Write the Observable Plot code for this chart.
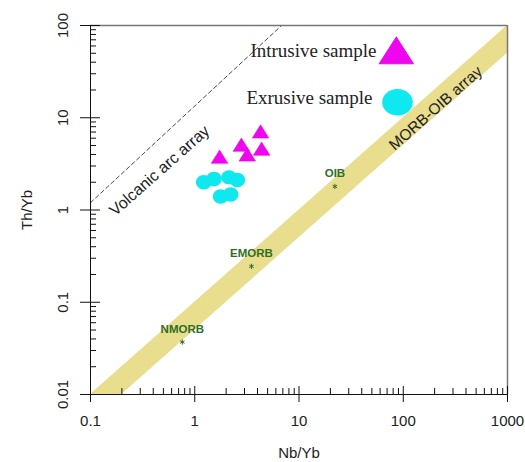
<!DOCTYPE html>
<html><head><meta charset="utf-8">
<script src="https://cdn.jsdelivr.net/npm/d3@7"></script>
<script src="https://cdn.jsdelivr.net/npm/@observablehq/plot@0.6"></script>
<style>html,body{margin:0;padding:0;background:#fff;}</style>
</head><body><div id="chart"></div>
<script>
// ---- data ----
const xTicks = [0.1, 1, 10, 100, 1000];
const xTickLabels = ["0.1", "1", "10", "100", "1000"];
const yTicks = [0.01, 0.1, 1, 10, 100];
const yTickLabels = ["0.01", "0.1", "1", "10", "100"];

const intrusiveNbYb = [4.28, 1.73, 2.80, 4.38, 3.19];
const intrusiveThYb = [6.73, 3.58, 4.83, 4.37, 3.79];

const extrusiveNbYb = [1.22, 1.53, 2.13, 2.56, 1.77, 2.21];
const extrusiveThYb = [2.00, 2.17, 2.26, 2.12, 1.40, 1.47];

const refNames = ["NMORB", "EMORB", "OIB"];
const refNbYb = [0.76, 3.5, 22.1];
const refThYb = [0.037, 0.245, 1.8];

const arrayNbYb = [0.1, 1000];
const arrayLowThYb = [0.005, 50];
const arrayHighThYb = [0.01, 100];

const arcNbYb = [0.1, 6.8];
const arcThYb = [1.2, 100];

const legendNames = ["Intrusive sample", "Exrusive sample"];

// ---- derived tables ----
const xMinor = xTicks.slice(0, -1).flatMap(d => [2,3,4,5,6,7,8,9].map(k => d * k));
const yMinor = yTicks.slice(0, -1).flatMap(d => [2,3,4,5,6,7,8,9].map(k => d * k));
const intrusive = intrusiveNbYb.map((x, i) => ({x, y: intrusiveThYb[i]}));
const extrusive = extrusiveNbYb.map((x, i) => ({x, y: extrusiveThYb[i]}));
const refs = refNames.map((name, i) => ({name, x: refNbYb[i], y: refThYb[i]}));
const band = arrayNbYb.map((x, i) => ({x, lo: arrayLowThYb[i], hi: arrayHighThYb[i]}));
const arc = arcNbYb.map((x, i) => ({x, y: arcThYb[i]}));

// ---- custom (slightly stretched) symbols ----
function triSymbol(w, h) {
  return {draw(ctx) {
    ctx.moveTo(0, -2 * h / 3);
    ctx.lineTo(w / 2, h / 3);
    ctx.lineTo(-w / 2, h / 3);
    ctx.closePath();
  }};
}
function ellSymbol(rx, ry) {
  const k = 0.5523;
  return {draw(ctx) {
    ctx.moveTo(rx, 0);
    ctx.bezierCurveTo(rx, k * ry, k * rx, ry, 0, ry);
    ctx.bezierCurveTo(-k * rx, ry, -rx, k * ry, -rx, 0);
    ctx.bezierCurveTo(-rx, -k * ry, -k * rx, -ry, 0, -ry);
    ctx.bezierCurveTo(k * rx, -ry, rx, -k * ry, rx, 0);
    ctx.closePath();
  }};
}

const W = 525, H = 462, mL = 90, mR = 18, mT = 25, mB = 68;
const fw = W - mL - mR, fh = H - mT - mB;
const MAG = "#ee06ee", CYA = "#0ee9f0", GRN = "#2f6f26";
const SERIF = "'Liberation Serif', 'Times New Roman', serif";

const plot = Plot.plot({
  width: W, height: H,
  marginLeft: mL, marginRight: mR, marginTop: mT, marginBottom: mB,
  x: {type: "log", domain: [0.1, 1000]},
  y: {type: "log", domain: [0.01, 100]},
  style: {fontFamily: "'Liberation Sans', Arial, sans-serif", background: "#fff", color: "#222"},
  marks: [
    Plot.areaY(band, {x: "x", y1: "lo", y2: "hi", fill: "#e9dd8e", clip: true}),
    Plot.line(arc, {x: "x", y: "y", stroke: "#333", strokeWidth: 0.9, strokeDasharray: "4,3", clip: true}),
    Plot.ruleY([100], {stroke: "#777", strokeWidth: 1.5}),
    Plot.ruleX([1000], {stroke: "#777", strokeWidth: 1.5}),
    Plot.ruleX([0.1], {stroke: "#111"}),
    Plot.ruleY([0.01], {stroke: "#111"}),
    Plot.tickX(xMinor, {x: d => d, insetTop: fh - 6, stroke: "#111"}),
    Plot.tickX(xTicks, {x: d => d, insetTop: fh - 8, stroke: "#111"}),
    Plot.tickY(yMinor, {y: d => d, insetRight: fw - 6, stroke: "#111"}),
    Plot.tickY(yTicks, {y: d => d, insetRight: fw - 10, stroke: "#111"}),
    Plot.axisX({ticks: xTicks, tickSize: 8, tickPadding: 13, label: null,
      tickFormat: d => xTickLabels[xTicks.indexOf(d)], fontSize: 15, fill: "#222", stroke: "#111"}),
    Plot.axisY({ticks: yTicks, tickSize: 10, tickPadding: 13, tickRotate: -90, label: null,
      tickFormat: d => yTickLabels[yTicks.indexOf(d)], fontSize: 15, fill: "#222", stroke: "#111"}),
    Plot.text(["Nb/Yb"], {frameAnchor: "bottom", dy: 59, lineAnchor: "middle", textAnchor: "middle", fontSize: 15, fill: "#222"}),
    Plot.text(["Th/Yb"], {frameAnchor: "left", dx: -63, rotate: -90, lineAnchor: "middle", textAnchor: "middle", fontSize: 15, fill: "#222"}),
    // annotations
    Plot.text(["Volcanic arc array"], {x: () => 0.46, y: () => 2.67, rotate: -41.5, fontSize: 16, fill: "#222", textAnchor: "middle", lineAnchor: "middle"}),
    Plot.text(["MORB-OIB array"], {x: () => 205, y: () => 12.7, rotate: -41.5, fontSize: 15.5, fill: "#222", textAnchor: "middle", lineAnchor: "middle"}),
    // reference compositions
    Plot.dot(refs, {x: "x", y: "y", symbol: "asterisk", r: 2.4, stroke: GRN, strokeWidth: 1}),
    Plot.text(refs, {x: "x", y: "y", text: "name", dy: -13, fontSize: 11.5, fontWeight: "bold", fill: GRN}),
    // samples
    Plot.dot(extrusive, {x: "x", y: "y", symbol: ellSymbol(7.8, 7.2), r: 5, fill: CYA, stroke: "none"}),
    Plot.dot(intrusive, {x: "x", y: "y", symbol: triSymbol(16.5, 13.3), r: 5, fill: MAG, stroke: MAG, strokeWidth: 0.6, strokeLinejoin: "round"}),
    // legend
    Plot.text([legendNames[0]], {frameAnchor: "top-left", dx: 286, dy: 25, textAnchor: "end", lineAnchor: "middle", fontFamily: SERIF, fontSize: 19, fill: "#222"}),
    Plot.text([legendNames[1]], {frameAnchor: "top-left", dx: 282, dy: 72.6, textAnchor: "end", lineAnchor: "middle", fontFamily: SERIF, fontSize: 19, fill: "#222"}),
    Plot.dot([legendNames[0]], {frameAnchor: "top-left", dx: 305.8, dy: 29.4, symbol: triSymbol(34, 26.5), r: 10, fill: MAG, stroke: MAG, strokeWidth: 1.2, strokeLinejoin: "round"}),
    Plot.dot([legendNames[1]], {frameAnchor: "top-left", dx: 307, dy: 76.7, symbol: ellSymbol(15.3, 13.3), r: 10, fill: CYA, stroke: "none"})
  ]
});
document.getElementById("chart").append(plot);
</script>
</body></html>
